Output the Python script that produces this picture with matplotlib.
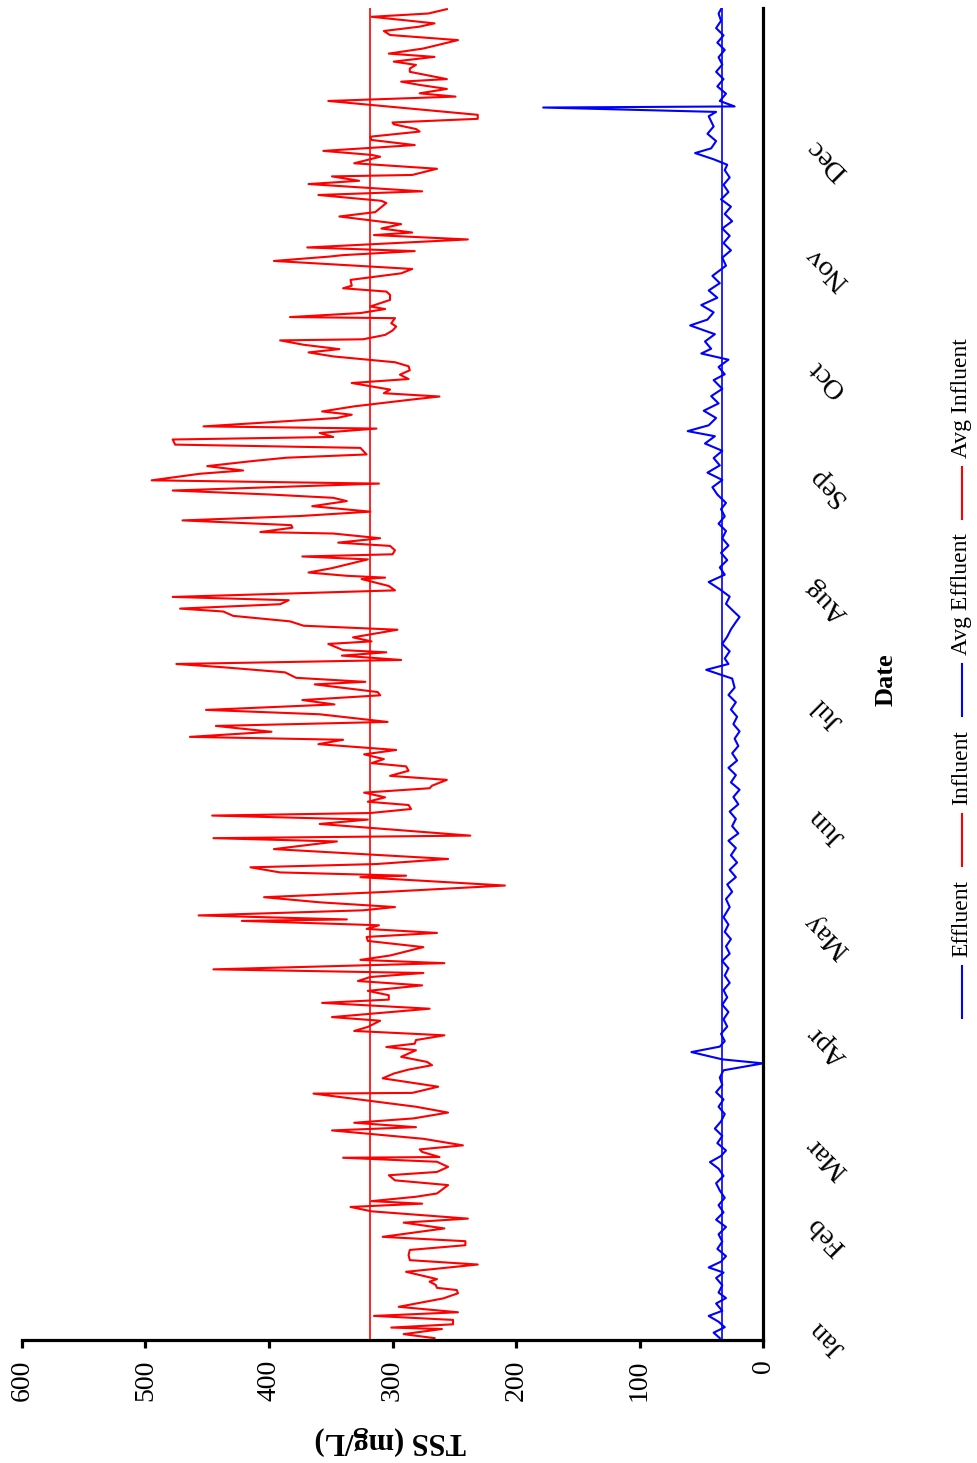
import matplotlib
matplotlib.use("Agg")
import matplotlib.pyplot as plt
from matplotlib.lines import Line2D

# ---- data (day of year, mg/L) ----
inf_day = [0.5,1.6,3.0,3.4,4.3,5.5,6.6,7.6,9.1,11.4,12.8,13.7,14.3,15.1,16.0,16.7,18.7,20.7,21.9,23.3,
           24.7,26.0,27.1,28.3,30.6,32.2,33.3,35.3,36.5,37.4,38.1,39.3,40.2,42.5,43.8,45.2,46.1,47.5,48.9,50.0,
           50.2,51.6,52.3,53.4,55.2,57.5,58.4,59.6,60.8,62.4,64.0,67.6,67.8,69.5,71.8,73.1,74.2,75.4,76.3,77.7,
           79.5,80.4,81.3,82.3,83.6,84.8,85.9,87.6,88.6,90.9,92.5,93.4,94.6,95.8,97.3,98.5,99.6,100.7,101.7,103.4,
           104.3,105.5,107.8,109.5,110.6,111.7,112.8,113.8,115.0,115.4,116.5,117.9,118.8,120.1,121.5,122.9,124.7,127.0,127.4,128.3,
           129.7,130.6,132.0,134.7,136.8,137.7,138.4,141.6,142.8,143.9,144.6,145.7,146.8,147.7,148.9,150.2,151.4,152.1,153.7,154.8,
           156.2,157.4,158.3,159.4,160.7,161.9,163.5,164.7,165.5,166.9,168.5,169.6,171.7,172.9,174.4,175.6,176.9,177.8,179.9,180.6,
           181.7,183.2,184.6,185.5,186.6,187.8,188.7,189.3,191.0,191.7,192.8,194.9,196.0,197.2,198.7,199.9,200.7,201.9,203.0,203.9,
           205.7,206.9,208.8,209.2,209.7,210.6,211.8,214.2,215.0,215.6,216.7,217.9,218.8,220.0,221.3,221.7,222.9,223.6,224.9,226.1,
           227.3,227.9,228.8,230.2,231.1,232.0,233.1,235.0,235.9,237.7,238.6,239.8,241.2,242.1,243.0,244.8,245.7,247.1,247.8,248.9,
           250.1,250.7,253.0,253.9,254.8,256.2,258.0,258.9,259.8,260.8,262.6,263.7,264.9,266.1,267.2,268.3,269.9,271.0,271.9,273.1,
           274.3,274.6,275.8,277.0,278.1,279.0,280.4,280.7,281.8,282.9,283.6,285.4,286.8,287.7,288.6,289.3,290.9,292.7,293.9,296.1,
           297.3,297.7,298.8,299.8,302.0,303.2,303.9,305.0,306.2,308.3,309.5,312.0,312.6,314.2,315.2,317.2,318.1,319.3,319.7,321.4,
           322.9,324.7,325.2,326.3,327.9,329.3,330.2,331.6,332.3,333.6,334.1,335.1,336.2,340.0,341.2,342.1,343.3,344.4,345.3,346.0,
           348.0,348.9,349.9,350.8,352.1,353.0,354.4,356.7,358.1,359.2,360.4,361.3,363.1,364.0,365.2]
inf_val = [266,291,260,301,251,251,315,247,295,259,247,248,264,265,270,264,289,231,286,287,
           286,241,241,308,258,291,239,317,334,276,317,281,264,255,298,303,264,255,264,340,
           262,276,278,243,275,349,281,331,283,255,281,364,284,263,308,299,287,268,272,293,
           281,305,282,281,258,331,320,310,349,270,357,303,303,320,276,328,318,275,445,258,
           326,302,275,320,321,264,321,311,422,337,457,324,298,359,404,309,209,326,289,391,
           415,313,255,396,345,445,237,359,320,446,318,285,287,320,306,323,270,268,256,302,
           287,289,317,307,323,297,360,340,464,398,443,304,359,451,347,373,310,312,363,322,
           378,387,437,475,293,341,305,340,352,317,332,296,372,383,429,437,472,391,384,478,
           298,303,325,306,337,368,349,320,373,300,298,302,344,310,348,407,381,382,470,375,
           318,337,365,337,348,399,478,311,495,456,421,450,413,386,321,326,476,478,348,359,
           313,453,345,333,357,331,286,262,307,302,333,287,294,286,287,298,348,368,343,372,
           391,324,306,300,297,301,298,383,326,306,318,302,302,305,340,333,334,293,284,396,
           351,340,282,369,239,315,284,309,293,343,314,305,309,360,276,368,327,349,284,264,
           331,310,317,356,282,317,318,278,281,299,300,231,231,352,249,278,256,278,293,256,
           286,286,281,299,266,303,275,247,302,307,278,266,317,271,256]

eff_day = [0.5,2,3.5,5,6.6,8,10,11.5,13,15,17,18.5,19.9,21.5,23,25,27,29,31,33,
           35,37,39,41,43,45,47,48.8,50.5,52,54,56,58,60,62,64,66,68,70,72,
           74,75.9,77,79,80.5,82,84,86,88,90,92,94,96,98,100,102,104,106,108,110,
           112,114,116,118.8,121,123,125,127,129,131,133,135,137,139,141,143,145,147,149,151,
           153,155,157,159,161,163,165,167,169,171,173,175,177,179,181.5,183.9,185.5,187,189,191,
           193,195,197,198.4,200,202,204,206,208,210,212,214,216,218,220,222,224,226,228,229.7,
           232,234,236,238,240,242,244,246,248,249.4,251,253,255,257,259,261,263.4,265,267,269,
           270.7,272,274,276,278.4,280,282,284,286,288,290,292,294.8,297,299,301,303,305,307,309,
           311,313,315,317,319,321,322.5,324,325.7,327,329,331,333,335.8,337,338.2,338.5,340,342,344,
           346,348,350,352,354,356,358,360,362,364,365.2]
eff_val = [35,40,31,36,44,33,38,30,36,33,38,32,44,34,30,37,33,36,30,38,
           32,36,31,35,38,32,36,43,34,30,37,33,39,34,31,36,32,38,33,35,
           32,0,33,58,35,31,34,29,32,28,33,29,32,27,31,28,33,27,30,26,
           31,28,32,27,30,25,29,22,27,21,26,22,28,20,25,22,27,20,24,19,
           26,22,28,21,25,20,23,19,24,21,26,22,28,23,25,46,28,31,27,33,
           29,26,22,19,24,30,27,35,44,31,35,29,34,28,33,30,36,31,34,30,
           37,41,33,45,35,40,33,47,39,61,44,38,48,36,42,33,40,31,36,28,
           50,42,47,39,59,45,40,50,37,44,35,41,30,33,26,32,27,33,25,31,
           26,34,28,32,27,31,29,40,55,42,38,45,40,44,38,178,23,35,30,37,
           32,38,33,36,31,37,32,38,34,36,34]

inf_avg = 318
eff_avg = 33

months = ["Jan","Feb","Mar","Apr","May","Jun","Jul","Aug","Sep","Oct","Nov","Dec"]
month_pos = [0.5,28.8,49.9,80.8,111,141,172,203,234,264,294,324]
tss_ticks = [0,100,200,300,400,500,600]

RED = "#ff0000"
BLUE = "#0000ff"

plt.rcParams['font.family'] = ['Liberation Serif', 'DejaVu Serif']

fig = plt.figure(figsize=(9.77, 14.63), dpi=100)
ax = fig.add_axes([0.0225, 0.0841, 0.7585, 0.9104])

n_e = min(len(eff_day), len(eff_val))
n_i = min(len(inf_day), len(inf_val))
ax.plot(eff_val[:n_e], eff_day[:n_e], color=BLUE, lw=1.5)
ax.plot(inf_val[:n_i], inf_day[:n_i], color=RED, lw=1.5)
ax.axvline(eff_avg, color=BLUE, lw=1.2)
ax.axvline(inf_avg, color=RED, lw=1.2)

ax.set_xlim(600, 0)
ax.set_ylim(0, 365.5)

for s in ["top", "left"]:
    ax.spines[s].set_visible(False)
for s in ["bottom", "right"]:
    ax.spines[s].set_linewidth(2.3)
    ax.spines[s].set_color("black")

ax.set_xticks(tss_ticks)
ax.set_xticklabels([str(t) for t in tss_ticks], rotation=90, fontsize=20)
ax.tick_params(axis="x", direction="out", length=6, width=2.3, pad=8)

ax.yaxis.tick_right()
ax.set_yticks(month_pos)
ax.set_yticklabels(months, rotation=135, fontsize=20.5, ha="center", va="center",
                   rotation_mode="default")
ax.tick_params(axis="y", length=0, pad=46)

# axis titles (rotated layout)
fig.text(390/977, 1 - 1441/1463, "TSS (mg/L)", rotation=180, fontsize=22,
         fontweight="bold", ha="center", va="center")
fig.text(886/977, 1 - 680/1463, "Date", rotation=90, fontsize=19,
         fontweight="bold", ha="center", va="center")

# legend (rotated), entries stacked bottom->top
entries = [("Effluent", BLUE), ("Influent", RED), ("Avg Effluent", BLUE), ("Avg Influent", RED)]
lx = 962 / 977
y_px = 1018
for label, col in entries:
    y0 = 1 - y_px / 1463
    y1 = 1 - (y_px - 52) / 1463
    fig.add_artist(Line2D([lx, lx], [y0, y1], color=col, lw=1.5, transform=fig.transFigure))
    t = fig.text(lx, y1 + 9/1463, label, rotation=90, fontsize=17, ha="center", va="bottom")
    fig.canvas.draw()
    bb = t.get_window_extent()
    y_px = 1463 - bb.y1 - 14

fig.savefig("out.png", dpi=100)
